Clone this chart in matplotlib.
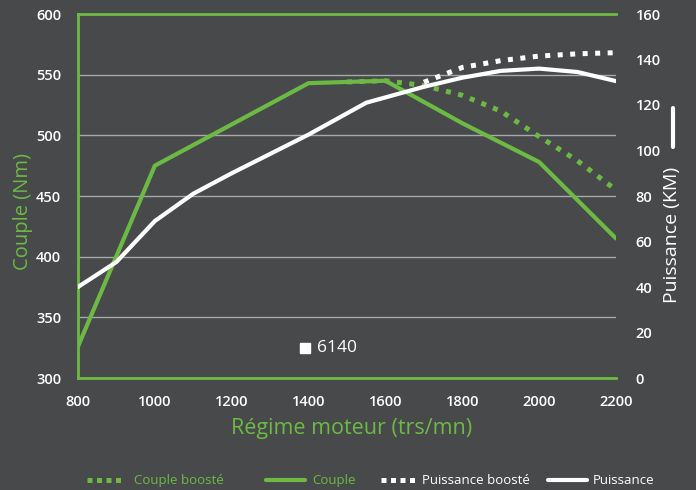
# Courbes couple / puissance moteur 6140

import matplotlib
matplotlib.use("Agg")
import matplotlib.pyplot as plt
from matplotlib.lines import Line2D

BG = "#48494b"
GREEN = "#6cba44"
GRID = "#a8a8a8"

# Couple (Nm), axe gauche
couple_rpm = [800, 1000, 1200, 1400, 1600, 1800, 2000, 2200]
couple_nm = [326, 475, 509, 543, 545, 510, 478, 415]

couple_boost_rpm = [1500, 1600, 1700, 1800, 1900, 2000, 2100, 2200]
couple_boost_nm = [544, 545, 541, 533, 520, 499, 479, 455]

# Puissance (KM), axe droit
puiss_rpm = [800, 900, 1000, 1100, 1200, 1400, 1550, 1700, 1800, 1900, 2000, 2100, 2200]
puiss_km = [40, 51, 69, 81, 90, 107, 121, 128, 132, 135, 136, 134.5, 130.5]

puiss_boost_rpm = [1700, 1800, 1900, 2000, 2100, 2200]
puiss_boost_km = [130, 136.5, 139.5, 141.5, 142.5, 143]

x_ticks = [800, 1000, 1200, 1400, 1600, 1800, 2000, 2200]
left_ticks = [300, 350, 400, 450, 500, 550, 600]
right_ticks = [0, 20, 40, 60, 80, 100, 120, 140, 160]

legend_labels = ["Couple boosté", "Couple", "Puissance boosté", "Puissance"]

plt.rcParams["font.family"] = ["Open Sans", "DejaVu Sans"]

fig = plt.figure(figsize=(6.96, 4.90), dpi=100, facecolor=BG)
ax = fig.add_axes([78 / 696, 1 - 378 / 490, 538 / 696, 364 / 490])
ax.set_facecolor(BG)
ax2 = ax.twinx()

dotted = (0, (1, 1.5))

ax.plot(couple_rpm, couple_nm, color=GREEN, lw=3, solid_capstyle="round", zorder=3)
ax.plot(couple_boost_rpm, couple_boost_nm, color=GREEN, lw=3.6,
        linestyle=dotted, dash_capstyle="butt", zorder=3)
ax2.plot(puiss_rpm, puiss_km, color="white", lw=3, solid_capstyle="round", zorder=3)
ax2.plot(puiss_boost_rpm, puiss_boost_km, color="white", lw=3.6,
         linestyle=dotted, dash_capstyle="butt", zorder=3)

ax.set_xlim(800, 2200)
ax.set_ylim(300, 600)
ax2.set_ylim(0, 160)
ax.set_xticks(x_ticks)
ax.set_yticks(left_ticks)
ax2.set_yticks(right_ticks)

ax.yaxis.grid(True, color=GRID, lw=1)
ax.set_axisbelow(True)

for name in ["left", "top", "bottom"]:
    ax.spines[name].set_color(GREEN)
    ax.spines[name].set_linewidth(2)
ax.spines["right"].set_visible(False)
for s in ax2.spines.values():
    s.set_visible(False)

tick_font = dict(colors="white", labelsize=10.5, length=0)
ax.tick_params(axis="y", pad=12, **tick_font)
ax.tick_params(axis="x", pad=12, **tick_font)
ax2.tick_params(axis="y", pad=14, **tick_font)
for lab in ax.get_xticklabels() + ax.get_yticklabels() + ax2.get_yticklabels():
    lab.set_fontweight("semibold")

fig.text(23 / 696, 1 - 211 / 490, "Couple (Nm)", color=GREEN, fontsize=14.5,
         rotation=90, ha="center", va="center")
fig.text(352 / 696, 1 - 428 / 490, "Régime moteur (trs/mn)", color=GREEN,
         fontsize=15.5, ha="center", va="center")
fig.text(672 / 696, 1 - 235 / 490, "Puissance (KM)", color="white", fontsize=14,
         rotation=90, ha="center", va="center")
fig.add_artist(Line2D([673 / 696, 673 / 696], [1 - 147 / 490, 1 - 108 / 490],
                      color="white", lw=3, solid_capstyle="round"))

# etiquette du modele
ax.plot([0.422], [0.082], marker="s", markersize=7, color="white",
        linestyle="none", transform=ax.transAxes, clip_on=False)
ax.text(0.444, 0.082, "6140", color="white", fontsize=12.5, transform=ax.transAxes,
        ha="left", va="center")

# legende manuelle en bas
ly = 1 - 480 / 490
legend_dots = (0, (1, 0.9))
handles = [
    (87, 122, GREEN, legend_dots, 134),
    (266, 305, GREEN, "-", 312),
    (381, 416, "white", legend_dots, 422),
    (548, 587, "white", "-", 593),
]
for (x0, x1, col, ls, tx), label in zip(handles, legend_labels):
    if ls == "-":
        fig.add_artist(Line2D([x0 / 696, x1 / 696], [ly, ly], color=col, lw=3,
                              solid_capstyle="round"))
    else:
        fig.add_artist(Line2D([x0 / 696, x1 / 696], [ly, ly], color=col, lw=3.6,
                              linestyle=ls, dash_capstyle="butt"))
    fig.text(tx / 696, ly, label, color=col, fontsize=9.5, ha="left", va="center")

fig.savefig("out.png", dpi=100, facecolor=BG)
